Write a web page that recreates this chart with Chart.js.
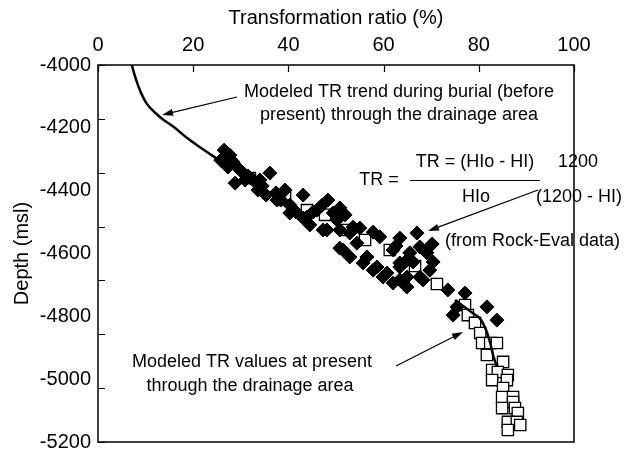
<!DOCTYPE html>
<html>
<head>
<meta charset="utf-8">
<script src="https://cdn.jsdelivr.net/npm/chart.js@4.4.1/dist/chart.umd.min.js"></script>
<style>
  html, body { margin: 0; padding: 0; background: #fff; }
</style>
</head>
<body>
<canvas id="chart" width="629" height="454"></canvas>
<script>
// TR from Rock-Eval data (filled diamonds)
const rockEvalTR = [26.5, 27.7, 25.8, 28.4, 27.3, 29.4, 30.3, 28.8, 31.5, 32.6, 34.5, 36.1, 33.6, 35.3, 37.4, 38.4,
  40.3, 43.1, 41.6, 43.1, 45.2, 44.5, 46.0, 47.3, 49.4, 50.2, 51.9, 52.9, 55.0, 51.5, 54.4, 56.5, 58.6, 60.7,
  63.4, 64.9, 59.2, 62.0, 63.4, 64.9, 62.6, 65.5, 67.6, 69.1, 70.4, 66.2, 63.4, 64.9, 68.3, 73.5, 75.4, 77.1,
  81.7, 83.8, 74.6, 47.1, 48.3, 50.8, 53.6, 57.8, 67.0, 50.8, 52.9, 55.7, 57.8, 67.6, 63.4, 34.0, 37.6, 43.9,
  48.1, 50.8, 40.3, 26.9, 30.9, 39.3, 70.2, 69.7, 62.0, 59.9];
const rockEvalDepth = [-4271, -4287, -4303, -4309, -4325, -4328, -4341, -4376, -4353, -4366, -4385, -4344, -4398, -4414, -4407, -4430,
  -4446, -4414, -4468, -4487, -4468, -4509, -4462, -4525, -4471, -4493, -4477, -4535, -4519, -4589, -4567, -4611, -4643, -4662,
  -4684, -4707, -4547, -4589, -4551, -4621, -4576, -4598, -4579, -4598, -4627, -4627, -4643, -4675, -4684, -4716, -4770, -4726,
  -4770, -4812, -4796, -4446, -4430, -4455, -4516, -4532, -4535, -4583, -4611, -4630, -4653, -4675, -4630, -4366, -4430, -4484,
  -4525, -4525, -4471, -4296, -4366, -4398, -4570, -4653, -4694, -4675];

// modeled TR values at present (open squares)
const presentTR = [43.9, 52.3, 61.3, 66.6, 71.2, 77.1, 77.7, 79.2, 80.3, 80.7, 82.4, 83.8, 81.7, 85.1, 82.8, 84.0,
  86.1, 85.9, 82.8, 85.1, 84.9, 87.2, 87.2, 84.9, 87.6, 88.2, 86.1, 88.0, 88.7, 86.1, 31.9, 39.3, 47.7, 56.1];
const presentDepth = [-4462, -4525, -4589, -4640, -4697, -4764, -4796, -4821, -4853, -4885, -4885, -4885, -4923, -4945, -4971, -4977,
  -4987, -5003, -5003, -5028, -5057, -5057, -5073, -5092, -5092, -5108, -5136, -5136, -5146, -5162, -4360, -4420, -4477, -4557];

// modeled TR trend during burial (line)
const burialTR = [7.1, 7.8, 8.8, 10.2, 12.0, 13.8, 15.8, 19.3, 22.8, 25.0];
const burialDepth = [-4000, -4037, -4080, -4122, -4152, -4175, -4196, -4239, -4276, -4298];

// modeled TR at present (line through the squares)
const presentLineTR = [75.0, 78.4, 80.3, 81.5, 82.4, 83.0, 83.8];
const presentLineDepth = [-4748, -4786, -4808, -4843, -4885, -4923, -4961];

const toPoints = (xs, ys) => xs.map((x, i) => ({ x: x, y: ys[i] }));

Chart.defaults.font.family = '"Liberation Sans", Arial, sans-serif';
Chart.defaults.color = '#000';

function arrow(ctx, x1, y1, x2, y2) {
	const a = Math.atan2(y2 - y1, x2 - x1);
	const len = 11, half = 3.5;
	ctx.beginPath();
	ctx.moveTo(x1, y1);
	ctx.lineTo(x2 - Math.cos(a) * len * 0.8, y2 - Math.sin(a) * len * 0.8);
	ctx.stroke();
	ctx.beginPath();
	ctx.moveTo(x2, y2);
	ctx.lineTo(x2 - len * Math.cos(a) + half * Math.sin(a), y2 - len * Math.sin(a) - half * Math.cos(a));
	ctx.lineTo(x2 - len * Math.cos(a) - half * Math.sin(a), y2 - len * Math.sin(a) + half * Math.cos(a));
	ctx.closePath();
	ctx.fill();
}

// frame and inward tick marks
const framePlugin = {
	id: 'frame',
	afterDatasetsDraw(chart) {
		const ctx = chart.ctx;
		const a = chart.chartArea;
		const sx = chart.scales.x;
		const sm = chart.scales.yMarks;
		ctx.save();
		ctx.strokeStyle = '#000';
		ctx.lineWidth = 1.5;
		ctx.strokeRect(a.left, a.top, a.right - a.left, a.bottom - a.top);
		ctx.lineWidth = 1.2;
		ctx.beginPath();
		sx.ticks.forEach(t => {
			const px = Math.round(sx.getPixelForValue(t.value)) + 0.5;
			ctx.moveTo(px, a.top);
			ctx.lineTo(px, a.top + 7);
		});
		sm.ticks.forEach(t => {
			const py = Math.round(sm.getPixelForValue(t.value)) + 0.5;
			ctx.moveTo(a.left, py);
			ctx.lineTo(a.left + 7, py);
		});
		ctx.stroke();
		ctx.restore();
	}
};

// text notes, formula and arrows
const notesPlugin = {
	id: 'notes',
	afterDraw(chart) {
		const ctx = chart.ctx;
		ctx.save();
		ctx.fillStyle = '#000';
		ctx.strokeStyle = '#000';
		ctx.lineWidth = 1.2;
		ctx.font = '18px "Liberation Sans", Arial, sans-serif';
		ctx.textBaseline = 'middle';
		ctx.textAlign = 'center';
		ctx.fillText('Modeled TR trend during burial (before', 399, 92);
		ctx.fillText('present) through the drainage area', 399, 115);
		ctx.fillText('Modeled TR values at present', 252, 362);
		ctx.fillText('through the drainage area', 250, 386);
		ctx.fillText('TR =', 379, 180);
		ctx.fillText('TR = (HIo - HI)', 475, 162);
		ctx.fillText('HIo', 476, 197);
		ctx.fillText('1200', 578, 162);
		ctx.fillText('(1200 - HI)', 579, 197);
		ctx.textAlign = 'left';
		ctx.fillText('(from Rock-Eval data)', 445, 241);
		ctx.beginPath();
		ctx.moveTo(410, 180.5);
		ctx.lineTo(540, 180.5);
		ctx.stroke();
		arrow(ctx, 237, 97, 162, 115);
		arrow(ctx, 538, 190, 428, 231);
		arrow(ctx, 396, 366, 463, 332);
		ctx.restore();
	}
};

new Chart(document.getElementById('chart'), {
	type: 'scatter',
	data: {
		datasets: [{
			data: toPoints(burialTR, burialDepth),
			showLine: true,
			borderColor: '#000',
			borderWidth: 2.5,
			pointRadius: 0,
			tension: 0.4,
			order: 0
		}, {
			data: toPoints(presentLineTR, presentLineDepth),
			showLine: true,
			borderColor: '#000',
			borderWidth: 2.5,
			pointRadius: 0,
			tension: 0.4,
			order: 0
		}, {
			data: toPoints(rockEvalTR, rockEvalDepth),
			pointStyle: 'rectRot',
			pointRadius: 7,
			backgroundColor: '#000',
			borderColor: '#000',
			borderWidth: 1,
			order: 1
		}, {
			data: toPoints(presentTR, presentDepth),
			pointStyle: 'rect',
			pointRadius: 8,
			backgroundColor: '#fff',
			borderColor: '#000',
			borderWidth: 1.3,
			order: 2
		}]
	},
	options: {
		responsive: false,
		animation: false,
		layout: { padding: { top: 0, left: 0, right: 55, bottom: 12 } },
		plugins: { legend: { display: false }, tooltip: { enabled: false } },
		scales: {
			x: {
				type: 'linear',
				position: 'top',
				min: 0,
				max: 100,
				grid: { display: false, drawTicks: false },
				border: { display: false },
				ticks: { stepSize: 20, padding: 8, font: { size: 20 }, callback: v => String(v) },
				title: { display: true, text: 'Transformation ratio (%)', font: { size: 20 }, padding: { top: 6, bottom: 0 } },
				afterFit(s) { s.height = 65; s.paddingLeft = 0; s.paddingRight = 0; }
			},
			y: {
				type: 'linear',
				min: -5200,
				max: -4000,
				grid: { display: false, drawTicks: false },
				border: { display: false },
				ticks: { stepSize: 200, padding: 7, font: { size: 20 }, callback: v => String(v) },
				title: { display: true, text: 'Depth (msl)', font: { size: 20 }, padding: { top: 10, bottom: 0 } },
				afterFit(s) { s.width = 98; s.paddingTop = 0; s.paddingBottom = 0; }
			},
			yMarks: {
				type: 'linear',
				position: 'left',
				display: false,
				min: 0,
				max: 7,
				ticks: { stepSize: 1 }
			}
		}
	},
	plugins: [framePlugin, notesPlugin]
});
</script>
</body>
</html>
